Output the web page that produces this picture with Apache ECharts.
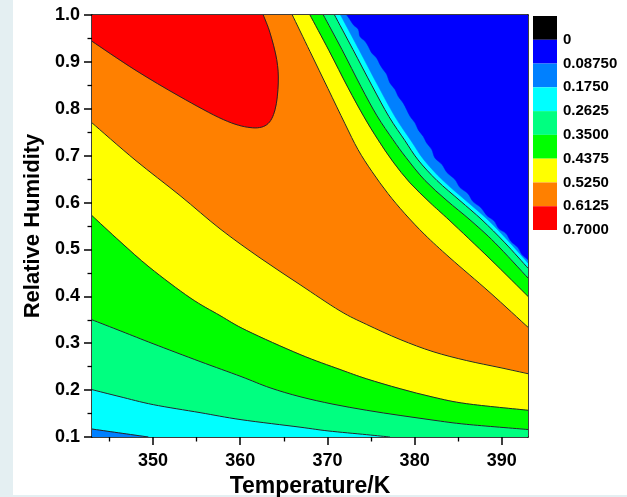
<!DOCTYPE html>
<html><head><meta charset="utf-8">
<script src="https://cdn.jsdelivr.net/npm/echarts@6/dist/echarts.min.js"></script>
<style>html,body{margin:0;padding:0;background:#fff}#c{width:627px;height:497px}</style>
</head><body><div id="c"></div>
<script>
// ---------- data (Temperature K, Relative Humidity) ----------
const X_MIN = 343, X_MAX = 393, Y_MIN = 0.1, Y_MAX = 1.0;
const X_TICKS = [350, 360, 370, 380, 390];
const X_MINOR_TICKS = [345, 355, 365, 375, 385];
const LEVEL_LABELS = ['0', '0.08750', '0.1750', '0.2625', '0.3500', '0.4375', '0.5250', '0.6125', '0.7000'];
const LEVEL_COLORS = ['#000000', '#0000ff', '#0080ff', '#00ffff', '#00ff80', '#00ff00', '#ffff00', '#ff8000', '#ff0000'];

// contour 0.6125 (red region, top-left)
const c0612_top = [[343,0.944],[347.93,0.883],[353.09,0.826],[358.06,0.777],[361.12,0.760],[363.03,0.766],[363.99,0.798],[364.36,0.855],[364.18,0.905],[363.41,0.962],[362.64,1.0]];
// lower branch contours (left edge -> right / bottom edge)
const c0525_low = [[343,0.770],[347.93,0.691],[353.09,0.615],[357.68,0.544],[362.27,0.482],[366.85,0.425],[371.44,0.369],[374.50,0.340],[378.33,0.308],[382.11,0.282],[385.97,0.263],[389.79,0.248],[393,0.235]];
const c0437_low = [[343,0.572],[346.21,0.517],[349.65,0.461],[354.24,0.397],[357.68,0.359],[360.74,0.327],[366.85,0.276],[371.44,0.244],[374.50,0.224],[378.33,0.203],[382.11,0.185],[385.97,0.171],[393,0.157]];
const c0350_low = [[343,0.350],[346.44,0.325],[350.0,0.299],[355.39,0.261],[360.09,0.229],[363.41,0.205],[366.85,0.186],[370.64,0.170],[374.50,0.157],[378.33,0.146],[382.11,0.136],[385.97,0.127],[393,0.116]];
const c0262_low = [[343,0.201],[346.21,0.186],[350.03,0.169],[355.39,0.152],[360.09,0.137],[366.85,0.121],[370.06,0.113],[374.50,0.105],[377.17,0.100]];
const c0175_low = [[343,0.117],[346.02,0.109],[349.46,0.100]];
// upper-right branch contours (top edge -> right edge)
const c0525_up = [[365.97,1.0],[368.00,0.922],[370.06,0.843],[372.01,0.768],[373.50,0.713],[375.11,0.666],[376.95,0.619],[378.89,0.576],[381.19,0.531],[384.05,0.482],[388.64,0.408],[393,0.334]];
const c0437_up = [[368.00,1.0],[370.18,0.924],[372.36,0.845],[374.19,0.783],[375.80,0.734],[377.52,0.687],[379.47,0.642],[381.76,0.600],[384.05,0.561],[388.64,0.480],[393,0.400]];
const c0350_up = [[369.53,1.0],[371.67,0.926],[373.85,0.847],[375.68,0.785],[377.52,0.734],[379.01,0.696],[381.19,0.647],[383.71,0.604],[386.35,0.563],[389.22,0.514],[393,0.439]];
const c0262_up = [[370.81,1.0],[372.93,0.926],[375.11,0.849],[377.06,0.783],[378.89,0.732],[380.39,0.691],[382.56,0.647],[385.20,0.604],[387.72,0.563],[390.36,0.514],[393,0.460]];
const c0175_up = [[371.50,1.0],[373.62,0.926],[375.80,0.849],[377.75,0.783],[379.58,0.732],[381.07,0.691],[383.25,0.647],[385.89,0.604],[388.41,0.563],[390.94,0.514],[393,0.471]];
// 0.0875 edge of the blue region is ragged in the source
const c0087_up = [[372.21,1.0],[372.59,0.990],[372.97,0.979],[373.54,0.969],[373.73,0.954],[374.31,0.944],[374.69,0.933],[375.08,0.919],[375.65,0.908],[376.03,0.894],[376.41,0.883],[376.80,0.873],[377.17,0.855],[377.75,0.841],[378.13,0.826],[378.70,0.812],[379.09,0.798],[379.47,0.784],[380.04,0.770],[380.42,0.755],[380.99,0.741],[381.38,0.727],[381.96,0.713],[382.33,0.695],[383.14,0.681],[383.71,0.664],[384.63,0.649],[385.20,0.632],[386.12,0.619],[386.69,0.602],[387.61,0.589],[388.30,0.572],[389.10,0.561],[389.67,0.544],[390.48,0.534],[391.05,0.517],[391.85,0.504],[392.31,0.489],[393,0.478]];

// ---------- fill regions built from the arrays (painter's order) ----------
const BL = [X_MIN, Y_MIN], BR = [X_MAX, Y_MIN], TR = [X_MAX, Y_MAX], TL = [X_MIN, Y_MAX];
const FILLS = [
  { curve: [], corners: [BL, BR, TR, TL], color: LEVEL_COLORS[7] },
  { curve: c0612_top, corners: [TL], color: LEVEL_COLORS[8] },
  { curve: c0525_low, corners: [BR, BL], color: LEVEL_COLORS[6] },
  { curve: c0437_low, corners: [BR, BL], color: LEVEL_COLORS[5] },
  { curve: c0350_low, corners: [BR, BL], color: LEVEL_COLORS[4] },
  { curve: c0262_low, corners: [BL], color: LEVEL_COLORS[3] },
  { curve: c0175_low, corners: [BL], color: LEVEL_COLORS[2] },
  { curve: c0525_up, corners: [TR], color: LEVEL_COLORS[6] },
  { curve: c0437_up, corners: [TR], color: LEVEL_COLORS[5] },
  { curve: c0350_up, corners: [TR], color: LEVEL_COLORS[4] },
  { curve: c0262_up, corners: [TR], color: LEVEL_COLORS[3] },
  { curve: c0175_up, corners: [TR], color: LEVEL_COLORS[2] },
  { curve: c0087_up, corners: [TR], color: LEVEL_COLORS[1] }
];
const LINES = [c0612_top, c0525_low, c0437_low, c0350_low, c0262_low, c0175_low, c0525_up, c0437_up, c0350_up, c0262_up];

function f2(v) { return v.toFixed(2); }
function smoothPath(pts) {
  let d = 'M' + f2(pts[0][0]) + ',' + f2(pts[0][1]);
  for (let i = 0; i < pts.length - 1; i++) {
    const p0 = pts[i - 1] || pts[i], p1 = pts[i], p2 = pts[i + 1], p3 = pts[i + 2] || pts[i + 1];
    const c1 = [p1[0] + (p2[0] - p0[0]) / 6, p1[1] + (p2[1] - p0[1]) / 6];
    const c2 = [p2[0] - (p3[0] - p1[0]) / 6, p2[1] - (p3[1] - p1[1]) / 6];
    d += 'C' + f2(c1[0]) + ',' + f2(c1[1]) + ',' + f2(c2[0]) + ',' + f2(c2[1]) + ',' + f2(p2[0]) + ',' + f2(p2[1]);
  }
  return d;
}

const FONT = "'Liberation Sans', Arial, sans-serif";
const chart = echarts.init(document.getElementById('c'), null, { renderer: 'canvas' });
const axisLine = { show: true, onZero: false, lineStyle: { color: '#000', width: 1.5 } };
const none = { show: false };

chart.setOption({
  animation: false,
  backgroundColor: '#ffffff',
  graphic: [
    { type: 'rect', left: 0, top: 0, shape: { width: 13, height: 497 }, style: { fill: '#e4eff2' }, silent: true },
    { type: 'rect', left: 0, top: 495, shape: { width: 627, height: 2 }, style: { fill: '#e4eff2' }, silent: true }
  ],
  grid: [
    { left: 92, top: 15, width: 436, height: 422, outerBoundsMode: 'none', containLabel: false },
    { left: 92, top: 15, width: 436, height: 422, outerBoundsMode: 'none', containLabel: false },
    { left: 533, top: 16, width: 24, height: 214, outerBoundsMode: 'none', containLabel: false }
  ],
  xAxis: [
    { gridIndex: 0, type: 'value', min: X_MIN, max: X_MAX, position: 'bottom',
      name: 'Temperature/K', nameLocation: 'middle', nameGap: 38,
      nameTextStyle: { fontFamily: FONT, fontWeight: 'bold', fontSize: 23, color: '#000' },
      axisLine: axisLine,
      axisTick: { show: true, customValues: X_TICKS, length: 8, lineStyle: { color: '#000', width: 1.5 } },
      axisLabel: { customValues: X_TICKS, margin: 15, fontFamily: FONT, fontWeight: 'bold', fontSize: 18, color: '#000' },
      splitLine: none },
    { gridIndex: 0, type: 'value', min: X_MIN, max: X_MAX, position: 'top',
      axisLine: axisLine, axisTick: none, axisLabel: none, splitLine: none },
    { gridIndex: 1, type: 'value', min: X_MIN, max: X_MAX, position: 'bottom',
      axisLine: none,
      axisTick: { show: true, customValues: X_MINOR_TICKS, length: 4.5, lineStyle: { color: '#000', width: 1.3 } },
      axisLabel: { show: false, customValues: X_MINOR_TICKS }, splitLine: none },
    { gridIndex: 2, type: 'value', min: 0, max: 1, show: false }
  ],
  yAxis: [
    { gridIndex: 0, type: 'value', min: Y_MIN, max: Y_MAX, interval: 0.1,
      name: 'Relative Humidity', nameLocation: 'middle', nameGap: 43,
      nameTextStyle: { fontFamily: FONT, fontWeight: 'bold', fontSize: 22, color: '#000' },
      axisLine: axisLine,
      axisTick: { show: true, length: 8, lineStyle: { color: '#000', width: 1.5 } },
      minorTick: { show: true, splitNumber: 2, length: 4.5, lineStyle: { color: '#000', width: 1.3 } },
      axisLabel: { margin: 12, formatter: v => Number(v).toFixed(1), fontFamily: FONT, fontWeight: 'bold', fontSize: 18, color: '#000' },
      splitLine: none, minorSplitLine: none },
    { gridIndex: 0, type: 'value', min: Y_MIN, max: Y_MAX, position: 'right',
      axisLine: axisLine, axisTick: none, axisLabel: none, splitLine: none },
    { gridIndex: 1, type: 'value', min: 0, max: 1, show: false },
    { gridIndex: 2, type: 'value', min: 0, max: LEVEL_LABELS.length, interval: 1, inverse: true, position: 'right',
      axisLine: none, axisTick: none, splitLine: none,
      axisLabel: { margin: 6, padding: [5, 0, 0, 0], fontFamily: FONT, fontWeight: 'bold', fontSize: 15, color: '#000',
        formatter: v => (v >= 1 ? LEVEL_LABELS[Math.round(v) - 1] : '') } }
  ],
  series: [
    { type: 'custom', name: 'fills', xAxisIndex: 0, yAxisIndex: 0, clip: true, silent: true, z: 2,
      dimensions: ['x', 'y', 'idx'], encode: { x: 0, y: 1 },
      data: FILLS.map((f, i) => [X_MIN, Y_MIN, i]),
      renderItem: function (params, api) {
        const f = FILLS[params.dataIndex];
        let d = f.curve.length ? smoothPath(f.curve.map(p => api.coord(p))) : '';
        f.corners.forEach(c => { const q = api.coord(c); d += (d ? 'L' : 'M') + f2(q[0]) + ',' + f2(q[1]); });
        d += 'Z';
        return { type: 'path', shape: { pathData: d }, style: { fill: f.color, stroke: f.color, lineWidth: 0.5 } };
      } },
    { type: 'custom', name: 'lines', xAxisIndex: 0, yAxisIndex: 0, clip: true, silent: true, z: 3,
      dimensions: ['x', 'y', 'idx'], encode: { x: 0, y: 1 },
      data: LINES.map((l, i) => [X_MIN, Y_MIN, i]),
      renderItem: function (params, api) {
        const d = smoothPath(LINES[params.dataIndex].map(p => api.coord(p)));
        return { type: 'path', shape: { pathData: d }, style: { fill: 'none', stroke: '#262626', lineWidth: 1 } };
      } },
    { type: 'custom', name: 'colorbar', xAxisIndex: 3, yAxisIndex: 3, silent: true,
      dimensions: ['x', 'y'], encode: { x: 0, y: 1 },
      data: LEVEL_COLORS.map((c, i) => [0, i]),
      renderItem: function (params, api) {
        const i = params.dataIndex;
        const a = api.coord([0, i]), b = api.coord([1, i + 1]);
        return { type: 'rect', shape: { x: Math.min(a[0], b[0]), y: Math.min(a[1], b[1]), width: Math.abs(b[0] - a[0]), height: Math.abs(b[1] - a[1]) },
                 style: { fill: LEVEL_COLORS[i] } };
      } }
  ]
});
</script>
</body></html>
